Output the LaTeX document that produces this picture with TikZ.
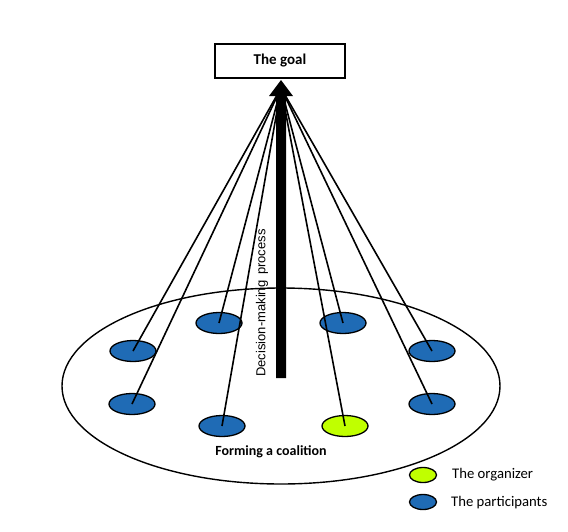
\documentclass[tikz,border=0pt]{standalone}
\usepackage{fontspec}
\setmainfont{Carlito}
\newfontfamily\arialf{Liberation Sans}
\usetikzlibrary{arrows.meta,shapes.geometric}
\definecolor{pblue}{HTML}{1F6BB5}
\definecolor{pgreen}{HTML}{C0FF00}
\begin{document}
\begin{tikzpicture}[x=1pt,y=-1pt,
  member/.style={ellipse,draw=black,line width=1.3pt,minimum width=46pt,minimum height=21pt,inner sep=0pt},
  legendmark/.style={ellipse,draw=black,line width=1.3pt,minimum width=27pt,minimum height=15pt,inner sep=0pt},
  tie/.style={draw=black,line width=1.6pt},
  lbl/.style={font=\fontsize{14.7}{16}\selectfont,anchor=west,inner sep=0pt}]
\useasboundingbox (0,0) rectangle (568,531);
% coalition
\node[ellipse,draw=black,line width=1.4pt,minimum width=438pt,minimum height=196pt,inner sep=0pt] (coal) at (281,386) {};
\node[font=\bfseries\fontsize{14}{16}\selectfont] (coaltxt) at (271,452) {Forming a coalition};
% goal
\node[draw=black,line width=1.3pt,minimum width=130pt,minimum height=34pt,inner sep=0pt,
  font=\bfseries\fontsize{15}{17}\selectfont] (goal) at (280,61) {\raisebox{3pt}{The goal}};
\coordinate (apex) at (281,88);
% participants
\node[member,fill=pblue] (p1) at (133,351) {};
\node[member,fill=pblue] (p2) at (219,323) {};
\node[member,fill=pblue] (p3) at (343,323) {};
\node[member,fill=pblue] (p4) at (432,351) {};
\node[member,fill=pblue] (p5) at (132,404) {};
\node[member,fill=pblue] (p6) at (222,426) {};
\node[member,fill=pgreen] (p7) at (345,426) {};
\node[member,fill=pblue] (p8) at (432,404) {};
\foreach \n in {p1,p2,p3,p4,p5,p6,p7,p8}
  \draw[tie] (apex) -- (\n.center);
% decision-making arrow
\coordinate (base) at (281,378);
\coordinate (tip) at (281,80);
\fill[black] ([xshift=-5pt]base) -- ([xshift=-5pt,yshift=-16pt]tip) -- ([xshift=-12pt,yshift=-16pt]tip)
  -- (tip) -- ([xshift=12pt,yshift=-16pt]tip) -- ([xshift=5pt,yshift=-16pt]tip) -- ([xshift=5pt]base) -- cycle;
\node[rotate=90,font=\arialf\fontsize{13}{15}\selectfont,inner sep=0pt] (dm) at (262,303) {Decision-making\, process};
% legend
\node[legendmark,fill=pgreen] (lg) at (423,475) {};
\node[lbl] (lgt) at (452,475) {The organizer};
\node[legendmark,fill=pblue] (lb) at (423,502) {};
\node[lbl] (lbt) at (451,503) {The participants};
\end{tikzpicture}
\end{document}
